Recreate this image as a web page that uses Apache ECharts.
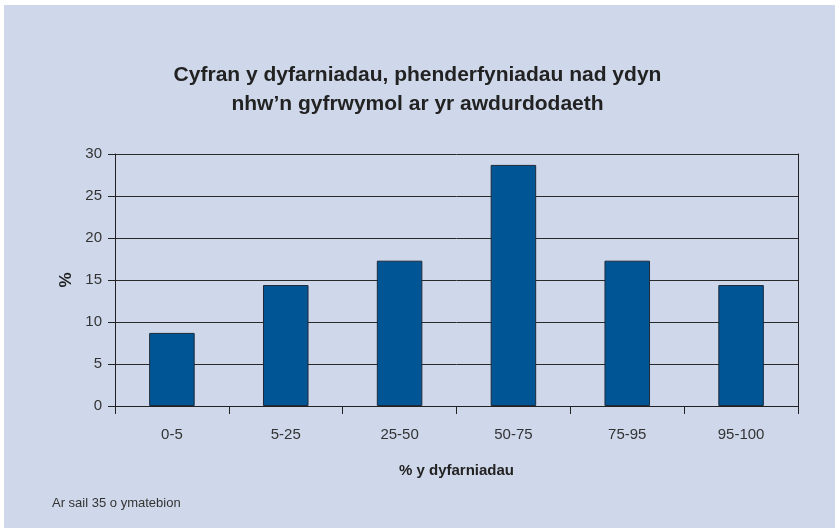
<!DOCTYPE html>
<html>
<head>
<meta charset="utf-8">
<script src="https://cdn.jsdelivr.net/npm/echarts@6/dist/echarts.min.js"></script>
<style>
  html, body { margin: 0; padding: 0; background: #fff; }
  #chart { width: 835px; height: 528px; }
</style>
</head>
<body>
<div id="chart"></div>
<script>
// bands of awards (%) and share of responses (based on 35 responses)
const categories = ['0-5', '5-25', '25-50', '50-75', '75-95', '95-100'];
const percentages = [8.7, 14.4, 17.3, 28.7, 17.3, 14.4];
const yTicks = { min: 0, max: 30, interval: 5 };

const chart = echarts.init(document.getElementById('chart'));

chart.setOption({
  backgroundColor: '#fff',
  animation: false,
  graphic: [
    {
      type: 'rect',
      z: -10,
      shape: { x: 4, y: 5, width: 831, height: 523 },
      style: { fill: '#cfd8ea' },
    },
    {
      type: 'text',
      left: 52,
      top: 497,
      style: {
        text: 'Ar sail 35 o ymatebion',
        fontFamily: 'Liberation Sans',
        fontSize: 13,
        fill: '#333',
      },
    },
  ],
  title: {
    text: 'Cyfran y dyfarniadau, phenderfyniadau nad ydyn\nnhw\u2019n gyfrwymol ar yr awdurdodaeth',
    left: 'center',
    top: 56,
    textStyle: {
      fontFamily: 'Liberation Sans',
      fontSize: 21,
      fontWeight: 'bold',
      color: '#222',
      lineHeight: 29,
    },
  },
  grid: {
    left: 115,
    right: 37,
    top: 154,
    bottom: 122,
  },
  xAxis: {
    type: 'category',
    data: categories,
    boundaryGap: true,
    name: '% y dyfarniadau',
    nameLocation: 'middle',
    nameGap: 57,
    nameTextStyle: {
      fontFamily: 'Liberation Sans',
      fontSize: 15,
      fontWeight: 'bold',
      color: '#222',
    },
    axisLine: { show: true, lineStyle: { color: '#222', width: 1 } },
    axisTick: { show: true, alignWithLabel: false, length: 8, lineStyle: { color: '#222' } },
    axisLabel: {
      margin: 21,
      fontFamily: 'Liberation Sans',
      fontSize: 15,
      color: '#333',
    },
    splitLine: { show: false },
  },
  yAxis: [
    {
      type: 'value',
      min: yTicks.min,
      max: yTicks.max,
      interval: yTicks.interval,
      name: '%',
      nameLocation: 'middle',
      nameGap: 39,
      nameTextStyle: {
        fontFamily: 'Liberation Sans',
        fontSize: 17,
        fontWeight: 'bold',
        color: '#222',
      },
      axisLine: { show: true, lineStyle: { color: '#222', width: 1 } },
      axisTick: { show: true, length: 7, lineStyle: { color: '#222' } },
      axisLabel: {
        margin: 13,
        fontFamily: 'Liberation Sans',
        fontSize: 15,
        color: '#333',
      },
      splitLine: { show: true, lineStyle: { color: '#2a2a2a', width: 1 } },
    },
    {
      type: 'value',
      position: 'right',
      min: yTicks.min,
      max: yTicks.max,
      interval: yTicks.interval,
      axisLine: { show: true, lineStyle: { color: '#222', width: 1 } },
      axisTick: { show: false },
      axisLabel: { show: false },
      splitLine: { show: false },
    },
  ],
  series: [
    {
      type: 'bar',
      data: percentages,
      barWidth: '40%',
      itemStyle: {
        color: '#005595',
        borderColor: '#1e2a3a',
        borderWidth: 1,
      },
    },
  ],
});
</script>
</body>
</html>
